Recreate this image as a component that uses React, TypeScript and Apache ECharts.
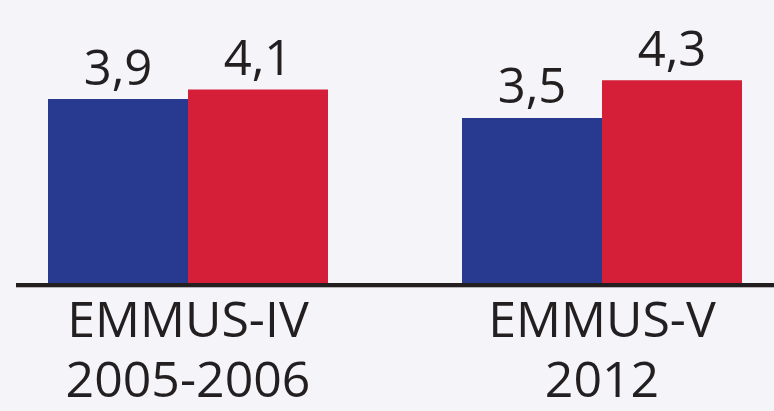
import React, { useEffect, useRef } from "react";
import * as echarts from "echarts";

const categories = ["EMMUS-IV\n2005-2006", "EMMUS-V\n2012"];
const seriesBlue = [3.9, 3.5];
const seriesRed = [4.1, 4.3];

const fmt = (v: number) => v.toFixed(1).replace(".", ",");

export default function App() {
  const ref = useRef<HTMLDivElement>(null);
  useEffect(() => {
    if (!ref.current) return;
    const chart = echarts.init(ref.current, undefined, { renderer: "svg" });
    const labelStyle = {
      show: true,
      position: "top" as const,
      distance: 9,
      fontFamily: "Open Sans",
      fontSize: 49,
      color: "#231f20",
      formatter: (p: any) => fmt(p.value),
    };
    chart.setOption({
      animation: false,
      backgroundColor: "#f4f4f9",
      grid: { left: -19, width: 828, top: 0, bottom: 128, outerBoundsMode: "none", containLabel: false },
      xAxis: {
        type: "category",
        data: categories,
        axisLine: { show: false },
        axisTick: { show: false },
        axisLabel: {
          fontFamily: "Open Sans",
          fontSize: 50,
          lineHeight: 60,
          color: "#231f20",
          margin: 5,
          interval: 0,
        },
      },
      yAxis: {
        type: "value",
        min: 0,
        max: 6,
        show: false,
        splitLine: { show: false },
      },
      series: [
        {
          type: "bar",
          data: seriesBlue,
          barWidth: 140,
          barGap: "0%",
          itemStyle: { color: "#283a90" },
          label: labelStyle,
        },
        {
          type: "bar",
          data: seriesRed,
          barWidth: 140,
          barGap: "0%",
          itemStyle: { color: "#d51f38" },
          label: labelStyle,
        },
      ],
      graphic: [
        {
          type: "line",
          shape: { x1: 16, y1: 287.5, x2: 774, y2: 287.5 },
          style: { stroke: "#b5b3b8", lineWidth: 1 },
          z: 10,
        },
        {
          type: "line",
          shape: { x1: 16, y1: 285, x2: 774, y2: 285 },
          style: { stroke: "#231f20", lineWidth: 4 },
          z: 11,
        },
      ],
    });
    return () => chart.dispose();
  }, []);
  return (
    <div
      ref={ref}
      style={{ position: "absolute", left: 0, top: 0, width: 774, height: 411 }}
    />
  );
}
